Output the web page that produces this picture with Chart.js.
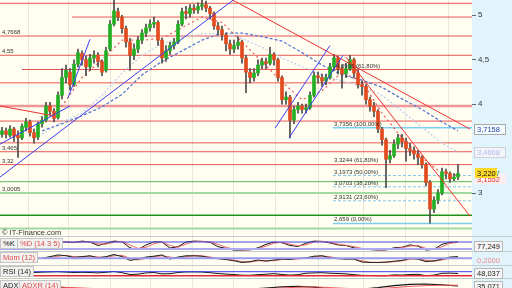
<!DOCTYPE html>
<html lang="fr">
<head>
<meta charset="UTF-8">
<title>Graphique cours</title>
<style>
  html, body { margin: 0; padding: 0; background: #e2f4fb; overflow: hidden; }
  #wrap { position: relative; width: 512px; height: 288px; overflow: hidden; }
  #wrap canvas { position: absolute; left: 0; }
  .lbl { position: absolute; height: 9px; line-height: 9px; padding: 0 2px; font: 7.5px "Liberation Sans", Arial, sans-serif; background: #f1f1ef; border: 1px solid #c4c4c4; color: #222; white-space: nowrap; }
  .val { position: absolute; left: 474px; height: 9px; line-height: 9px; padding: 0 2px; font: 7.5px "Liberation Sans", Arial, sans-serif; background: #f6f6f6; border: 1px solid #b8b8b8; color: #222; }
</style>
</head>
<body>
<div id="wrap">
  <canvas id="main" width="512" height="236" style="top:0"></canvas>
  <canvas id="stoch" width="512" height="15" style="top:236px"></canvas>
  <canvas id="mom" width="512" height="14" style="top:251px"></canvas>
  <canvas id="rsi" width="512" height="13" style="top:265px"></canvas>
  <canvas id="adx" width="512" height="10" style="top:278px"></canvas>

  <span class="lbl" style="left:0;top:238px">%K</span>
  <span class="lbl" style="left:17px;top:238px;color:#e04a4a">%D (14 3 5)</span>
  <span class="lbl" style="left:0;top:252px;color:#e04a4a">Mom (12)</span>
  <span class="lbl" style="left:0;top:266px">RSI (14)</span>
  <span class="lbl" style="left:0;top:280px">ADX</span>
  <span class="lbl" style="left:19px;top:280px;color:#e04a4a">ADXR (14)</span>

  <span class="val" style="top:241px">77,249</span>
  <span class="val" style="top:255px;background:none;border-color:transparent;color:#f08a8a">0,2000</span>
  <span class="val" style="top:268px">48,037</span>
  <span class="val" style="top:281px">35,071</span>
</div>

<script src="https://cdn.jsdelivr.net/npm/chart.js"></script>
<script>
// ---- cours (une bougie par index, 0 = bord gauche) ----
const opens = [
  3.66,3.70,3.65,3.72,3.65,3.62,3.74,3.80,3.68,3.63,
  3.78,3.82,3.98,3.92,3.85,4.10,4.30,4.36,4.22,4.45,
  4.57,4.50,4.42,4.52,4.55,4.48,4.38,4.62,4.90,5.04,
  4.98,4.85,4.70,4.55,4.62,4.72,4.80,4.86,4.90,4.92,
  4.72,4.52,4.60,4.66,4.70,4.90,5.04,5.02,5.08,5.06,
  5.10,5.12,5.08,5.02,4.88,4.84,4.78,4.68,4.62,4.66,
  4.70,4.52,4.36,4.30,4.35,4.44,4.48,4.46,4.56,4.50,
  4.30,4.05,4.08,3.82,3.94,3.98,3.94,3.96,4.10,4.32,
  4.30,4.26,4.30,4.42,4.52,4.40,4.34,4.40,4.50,4.35,
  4.22,4.20,4.05,3.98,3.92,3.72,3.60,3.38,3.42,3.55,
  3.62,3.58,3.50,3.48,3.44,3.40,3.32,3.12,2.82,2.92,
  3.00,3.24,3.22,3.16,3.18
];
const closes = [
  3.70,3.66,3.72,3.64,3.62,3.75,3.80,3.68,3.62,3.78,
  3.82,3.98,3.92,3.84,4.10,4.30,4.38,4.22,4.45,4.58,
  4.50,4.42,4.52,4.55,4.48,4.36,4.60,4.90,5.05,4.98,
  4.85,4.70,4.55,4.62,4.72,4.80,4.86,4.90,4.92,4.72,
  4.52,4.60,4.66,4.70,4.90,5.04,5.02,5.08,5.06,5.10,
  5.12,5.08,5.02,4.88,4.84,4.78,4.68,4.62,4.66,4.70,
  4.52,4.36,4.30,4.35,4.44,4.48,4.46,4.56,4.50,4.30,
  4.05,4.08,3.82,3.94,3.98,3.94,3.96,4.10,4.32,4.30,
  4.26,4.30,4.42,4.52,4.40,4.34,4.40,4.50,4.35,4.22,
  4.20,4.05,3.98,3.92,3.72,3.60,3.38,3.42,3.55,3.62,
  3.58,3.50,3.48,3.44,3.40,3.32,3.12,2.82,2.92,3.00,
  3.24,3.22,3.16,3.18,3.2207
];
const highs = [
  3.74,3.73,3.76,3.74,3.70,3.78,3.84,3.82,3.72,3.80,
  3.86,4.02,4.02,3.95,4.14,4.40,4.44,4.40,4.50,4.62,
  4.60,4.54,4.56,4.60,4.58,4.50,4.64,4.94,5.17,5.08,
  5.00,4.88,4.74,4.68,4.76,4.84,4.90,4.95,4.98,4.94,
  4.74,4.66,4.70,4.74,4.94,5.08,5.10,5.12,5.12,5.14,
  5.17,5.16,5.10,5.04,4.92,4.88,4.80,4.72,4.72,4.76,
  4.72,4.55,4.40,4.40,4.50,4.52,4.52,4.64,4.58,4.52,
  4.32,4.14,4.10,3.98,4.02,4.00,4.00,4.14,4.36,4.36,
  4.34,4.34,4.46,4.56,4.54,4.44,4.46,4.55,4.52,4.38,
  4.26,4.22,4.08,4.02,3.94,3.74,3.62,3.48,3.60,3.66,
  3.66,3.62,3.56,3.52,3.48,3.42,3.34,3.14,2.96,3.04,
  3.28,3.27,3.24,3.22,3.32
];
const lows = [
  3.63,3.62,3.63,3.58,3.40,3.60,3.70,3.64,3.56,3.60,
  3.74,3.80,3.88,3.80,3.83,4.06,4.24,4.16,4.20,4.42,
  4.44,4.32,4.38,4.46,4.42,4.32,4.36,4.60,4.88,4.94,
  4.80,4.64,4.38,4.50,4.58,4.68,4.76,4.82,4.86,4.66,
  4.46,4.48,4.56,4.62,4.68,4.88,4.96,4.98,5.02,5.02,
  5.06,5.04,4.96,4.84,4.78,4.72,4.60,4.56,4.58,4.62,
  4.46,4.13,4.24,4.26,4.32,4.40,4.40,4.44,4.44,4.26,
  4.00,4.00,3.62,3.78,3.90,3.90,3.90,3.94,4.08,4.24,
  4.20,4.22,4.28,4.38,4.34,4.18,4.30,4.38,4.30,4.18,
  4.10,4.00,3.92,3.86,3.68,3.54,3.06,3.34,3.40,3.50,
  3.52,3.36,3.42,3.38,3.32,3.28,3.08,2.66,2.78,2.88,
  2.98,3.16,3.12,3.14,3.15
];
const slotCount = 118;           // bougies + espace vide à droite
const gridIndex = [6.5, 16.5, 27, 37, 47.5, 57.75, 68.25, 79, 90.25, 100.75, 111.5];
const axisTicks = [5, 4.5, 4, 3];

// moyennes mobiles
const maIndex = [10,15,20,25,30,35,40,45,50,55,60,65,70,75,80,85,90,95,100,105,110,114];
const maShort = [3.79,3.98,4.30,4.50,4.72,4.72,4.74,4.86,4.98,4.92,4.70,4.48,4.25,4.05,4.15,4.36,4.25,3.90,3.62,3.40,3.22,3.20];
const maMid   = [3.70,3.78,3.87,3.97,4.11,4.33,4.48,4.60,4.72,4.80,4.80,4.76,4.71,4.58,4.44,4.33,4.27,4.19,4.06,3.94,3.80,3.70];
const maLong  = [3.66,3.80,3.90,4.10,4.35,4.55,4.68,4.75,4.79,4.80,4.74,4.64,4.52,4.42,4.33,4.26,4.20,4.10,3.92,3.74,3.56,3.46];

// niveaux horizontaux
const redLevels = [5.135, 4.98, 4.7668, 4.55, 4.39, 4.24, 3.81, 3.565, 3.465, 3.32];
const redStarts = [-0.5, 17.5, -0.5, -0.5, 5, -0.5, -0.5, -0.5, -0.5, -0.5];
const pivotLevel = 3.98;
const greenLevels = [3.128, 3.0005, 2.75, 2.60];
const noteValues = [4.7668, 4.55, 3.465, 3.32, 3.0005];
const noteTexts  = ['4,7668', '4,55', '3,465', '3,32', '3,0005'];

// retracements de Fibonacci
const fibStart = 82.75;
const fibLevels = [3.7356, 3.3244, 3.1973, 3.0703, 2.9131, 2.659];
const fibPct    = ['100,00%', '61,80%', '50,00%', '38,20%', '23,60%', '0,00%'];
const upperFib  = { value: 4.39, text: '4,3906 (61,80%)', start: 83.5 };

// droites de tendance [index0, cours0, index1, cours1]
const trendBlue = [[-0.5,3.18,57.75,5.17],[-0.5,3.55,17,3.98],[16.5,4.07,22,4.73],[68.25,3.73,82,4.66],[71.75,3.62,85.25,4.55]];
const trendRed  = [[57.75,5.17,117,3.72],[86,4.53,117,2.74],[-0.5,3.98,12.75,3.87]];

// étiquettes à droite
const tagValues = [3.7158, 3.4608, 3.1552, 3.2207];
const tagTexts  = ['3,7158', '3,4608', '3,1552', '3,2207'];

// indicateurs (un point toutes les 2 bougies, ADX toutes les 4)
const stochStart = 14;
const stochK = [85,80,75,88,80,50,68,88,82,30,15,55,82,80,28,40,80,88,85,78,40,25,11,11,14,30,60,80,74,50,42,70,88,85,72,55,50,30,20,15,11,12,30,35,55,45,11,18,60,78,80];
const stochD = [82,82,78,80,82,65,62,78,85,55,25,35,65,80,50,35,62,84,86,82,60,35,18,12,12,22,45,70,78,62,46,56,80,86,78,62,52,40,25,18,13,12,22,32,45,50,25,15,40,68,78];
const momStart = 10;
const momLine = [0.0,0.2,0.40,0.30,0.1,0.2,0.30,0.05,0.2,0.45,0.2,-0.25,-0.1,0.15,0.25,0.4,-0.1,0.15,0.3,0.3,0.25,0.05,-0.05,-0.15,-0.3,-0.5,-0.4,-0.2,-0.35,-0.2,-0.1,-0.15,0.0,0.05,0.25,0.3,0.05,-0.05,-0.1,-0.1,-0.45,-0.5,-0.5,-0.45,-0.35,-0.25,0.0,-0.1,-0.4,-0.3,-0.1,0.15,0.2];
const momSignal = [0.0,0.1,0.25,0.35,0.2,0.15,0.25,0.15,0.12,0.3,0.35,0.0,-0.2,0.0,0.2,0.3,0.15,0.0,0.2,0.3,0.28,0.15,0.0,-0.1,-0.22,-0.4,-0.45,-0.3,-0.28,-0.28,-0.15,-0.12,-0.08,0.02,0.15,0.28,0.18,0.0,-0.08,-0.1,-0.3,-0.48,-0.5,-0.48,-0.4,-0.3,-0.12,-0.05,-0.25,-0.35,-0.2,0.02,0.15];
const rsiStart = 8;
const rsiLine = [62,66,68,70,66,62,64,62,58,64,72,60,42,45,58,62,48,50,62,68,68,67,60,52,46,42,35,34,40,45,50,42,36,40,55,58,60,55,52,48,40,33,32,30,30,38,36,42,44,30,36,54,56,52];
const adxStart = 10;
const adxLine  = [29,27,24,22,20,18,17,16,17,20,22,22,21,22,25,28,29,27,23,20,22,26,31,34,35,33,30];
const adxrLine = [26,27,26,24,22,20,19,18,17,18,19,21,22,22,23,25,27,28,26,24,22,23,26,29,31,32,32];

// ---------------------------------------------------------------
const lastSlot = slotCount - 0.5;
const seg = (x0, y0, x1, y1) => [{ x: x0, y: y0 }, { x: x1, y: y1 }];
const atIndex = (vals, idx) => vals.map((v, k) => ({ x: idx[k], y: v }));
const fromStart = (vals, start, step) => vals.map((v, k) => ({ x: start + k * step, y: v }));
const comma = v => String(v).replace('.', ',');

function lineDs(data, color, width, dash, order) {
  return {
    type: 'line', xAxisID: 'x2', data, borderColor: color, borderWidth: width,
    borderDash: dash || [], pointRadius: 0, fill: false, tension: 0, order
  };
}

function drawGrid(c) {
  const { ctx, chartArea: a } = c;
  const sx = c.scales.x2 || c.scales.x;
  ctx.save();
  ctx.fillStyle = '#fffef1';
  ctx.fillRect(a.left, a.top, a.right - a.left, a.bottom - a.top);
  ctx.strokeStyle = '#e8e8dc';
  ctx.lineWidth = 1;
  gridIndex.forEach(i => {
    const x = Math.round(sx.getPixelForValue(i)) + 0.5;
    ctx.beginPath(); ctx.moveTo(x, a.top); ctx.lineTo(x, a.bottom); ctx.stroke();
  });
  ctx.restore();
}

const mainDecor = {
  id: 'mainDecor',
  beforeDraw: drawGrid,
  afterDatasetsDraw(c) {
    const { ctx, chartArea: a } = c;
    const sx = c.scales.x2, sy = c.scales.y;
    ctx.save();
    ctx.font = '6px "Liberation Sans", sans-serif';
    ctx.fillStyle = '#333';
    ctx.textBaseline = 'alphabetic';
    noteValues.forEach((v, k) => ctx.fillText(noteTexts[k], a.left + 2, sy.getPixelForValue(v) - 2));
    const fx = sx.getPixelForValue(fibStart) + 1;
    fibLevels.forEach((v, k) => ctx.fillText(comma(v) + ' (' + fibPct[k] + ')', fx, sy.getPixelForValue(v) - 2));
    ctx.fillText(upperFib.text, sx.getPixelForValue(upperFib.start), sy.getPixelForValue(upperFib.value) - 2);
    ctx.font = '7.5px "Liberation Sans", sans-serif';
    ctx.fillText('\u00a9 IT-Finance.com', a.left + 2, a.bottom - 1);
    ctx.restore();
  },
  afterDraw(c) {
    const { ctx } = c;
    const sy = c.scales.y;
    const styles = [
      { fg: '#2848a8', bg: '#f4fbff', bd: '#a8a8a8' },
      { fg: '#b8b8e8', bg: '#f2f4fc', bd: '#d0d0d8' },
      { fg: '#e03030', bg: '#fbeeee', bd: null },
      { fg: '#3a9a3a', bg: null, bd: null }
    ];
    ctx.save();
    ctx.font = '7.5px "Liberation Sans", sans-serif';
    ctx.textBaseline = 'middle';
    tagValues.forEach((v, k) => {
      const y = Math.round(sy.getPixelForValue(v));
      const s = styles[k];
      if (s.bg) { ctx.fillStyle = s.bg; ctx.fillRect(474, y - 5, 32, 10); }
      if (s.bd) { ctx.strokeStyle = s.bd; ctx.strokeRect(474.5, y - 4.5, 31, 10); }
      ctx.fillStyle = s.fg;
      ctx.fillText(tagTexts[k], 477, y + 0.5);
    });
    // dernier cours surligné en jaune
    const yl = Math.round(sy.getPixelForValue(tagValues[3]));
    ctx.fillStyle = '#ffd92a';
    ctx.fillRect(475, yl - 5, 22, 10);
    ctx.fillStyle = '#111';
    ctx.fillText(tagTexts[3].slice(0, 5), 477, yl + 0.5);
    ctx.restore();
  }
};

const datasets = [];
redLevels.forEach((v, k) => datasets.push(lineDs(seg(redStarts[k], v, lastSlot, v), 'rgba(228,58,58,0.85)', 1, null, 20)));
datasets.push(lineDs(seg(-0.5, pivotLevel, lastSlot, pivotLevel), 'rgba(236,140,140,0.9)', 2.5, null, 21));
const greenStyle = [['#5cb85c', 1], ['#a2d8a2', 2], ['#1f8f1f', 1.5], ['#a2d8a2', 2]];
greenLevels.forEach((v, k) => datasets.push(lineDs(seg(-0.5, v, lastSlot, v), greenStyle[k][0], greenStyle[k][1], null, 20)));
fibLevels.forEach((v, k) => {
  if (k === 1) return; // confondu avec le niveau rouge 3,32
  const solid = k === 0 || k === fibLevels.length - 1;
  datasets.push(lineDs(seg(fibStart, v, lastSlot, v), solid ? '#7ccdf0' : '#88c6ee', solid ? 1.5 : 1, solid ? null : [3, 2], 19));
});
datasets.push(lineDs(atIndex(maLong, maIndex), '#c2d0f0', 1.3, [2, 2], 12));
datasets.push(lineDs(atIndex(maMid, maIndex), '#5a76d0', 1.3, [3, 2], 11));
datasets.push(lineDs(atIndex(maShort, maIndex), '#e86262', 1.3, [2, 3], 10));
datasets.push({
  type: 'bar', data: lows.map((l, i) => [l, highs[i]]), backgroundColor: '#4a4a4a',
  barThickness: 1, grouped: false, borderWidth: 0, order: 5
});
datasets.push({
  type: 'bar', data: opens.map((o, i) => [o, closes[i]]),
  backgroundColor: closes.map((c, i) => c >= opens[i] ? '#22b022' : '#e24a1e'),
  barThickness: 3, grouped: false, borderWidth: 0, minBarLength: 1, order: 4
});
trendBlue.forEach(t => datasets.push(lineDs(seg(...t), '#3c3cf0', 1, null, 2)));
trendRed.forEach(t => datasets.push(lineDs(seg(...t), '#f03030', 1, null, 2)));

new Chart(document.getElementById('main'), {
  type: 'bar',
  data: { labels: Array.from({ length: slotCount }, (_, i) => String(i)), datasets },
  options: {
    responsive: false,
    animation: false,
    layout: { padding: 0 },
    plugins: { legend: { display: false }, tooltip: { enabled: false } },
    scales: {
      x: { display: false },
      x2: { type: 'linear', axis: 'x', display: false, offset: false, min: -0.5, max: lastSlot },
      y: {
        position: 'right', min: 2.517, max: 5.172,
        afterFit: s => { s.width = 40; s.paddingTop = 0; s.paddingBottom = 0; },
        afterBuildTicks: s => { s.ticks = axisTicks.map(v => ({ value: v })); },
        ticks: { callback: v => comma(v), color: '#333', padding: 2, font: { family: 'Liberation Sans', size: 8 } },
        grid: { drawOnChartArea: false, drawTicks: true, tickLength: 4, color: '#666' },
        border: { display: false }
      }
    }
  },
  plugins: [mainDecor]
});

// ---- panneaux d'indicateurs ----
const panelDecor = {
  id: 'panelDecor',
  beforeDraw(c) {
    drawGrid(c);
    const { ctx, width } = c;
    ctx.save();
    ctx.strokeStyle = '#c4ccd0';
    ctx.beginPath(); ctx.moveTo(0, 0.5); ctx.lineTo(width, 0.5); ctx.stroke();
    ctx.restore();
  }
};

function levelDs(v, color, width) {
  return { data: seg(-0.5, v, lastSlot, v), borderColor: color, borderWidth: width };
}

function panel(id, yMin, yMax, sets) {
  return new Chart(document.getElementById(id), {
    type: 'line',
    data: { datasets: sets },
    options: {
      responsive: false,
      animation: false,
      layout: { padding: { top: 1, right: 40 } },
      plugins: { legend: { display: false }, tooltip: { enabled: false } },
      elements: { point: { radius: 0 }, line: { tension: 0 } },
      scales: {
        x: { type: 'linear', display: false, offset: false, min: -0.5, max: lastSlot },
        y: { display: false, min: yMin, max: yMax }
      }
    },
    plugins: [panelDecor]
  });
}

panel('stoch', 3, 123, [
  levelDs(80, '#4646e6', 1),
  levelDs(20, '#aaaaf4', 2),
  { data: fromStart(stochD, stochStart, 2), borderColor: '#ec6a6a', borderWidth: 1 },
  { data: fromStart(stochK, stochStart, 2), borderColor: '#151515', borderWidth: 1 }
]);

panel('mom', -0.8, 0.75, [
  levelDs(0, '#9a9af0', 2),
  {
    data: fromStart(momLine, momStart, 2), borderColor: '#222', borderWidth: 1,
    fill: { target: '+1', above: 'rgba(120,200,110,0.6)', below: 'rgba(240,140,140,0.6)' }
  },
  { data: fromStart(momSignal, momStart, 2), borderColor: '#ec5a5a', borderWidth: 1 }
]);

panel('rsi', 7, 127, [
  levelDs(70, '#3a3ae6', 1),
  levelDs(30, '#e02a3a', 1.5),
  { data: fromStart(rsiLine, rsiStart, 2), borderColor: '#151515', borderWidth: 1 }
]);

panel('adx', 25, 47.5, [
  { data: fromStart(adxrLine, adxStart, 4), borderColor: '#ec5a5a', borderWidth: 1 },
  { data: fromStart(adxLine, adxStart, 4), borderColor: '#151515', borderWidth: 1.2 }
]);
</script>
</body>
</html>
